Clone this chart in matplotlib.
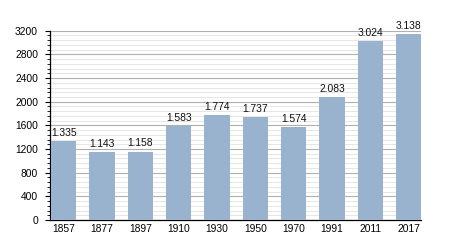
import matplotlib
matplotlib.use("Agg")
import matplotlib.pyplot as plt
from matplotlib.ticker import MultipleLocator

years = ["1857", "1877", "1897", "1910", "1930", "1950", "1970", "1991", "2011", "2017"]
population = [1335, 1143, 1158, 1583, 1774, 1737, 1574, 2083, 3024, 3138]
labels = ["1.335", "1.143", "1.158", "1.583", "1.774", "1.737", "1.574", "2.083", "3.024", "3.138"]

plt.rcParams['font.family'] = ['Liberation Sans', 'DejaVu Sans']

fig = plt.figure(figsize=(4.5, 2.5), dpi=100)
ax = fig.add_axes([0.111, 0.12, 0.825, 0.757])

x = list(range(len(years)))
bars = ax.bar(x, population, width=0.66, color="#99b3cf", zorder=3)
for xi, v, lab in zip(x, population, labels):
    ax.text(xi, v + 55, lab, ha="center", va="bottom", fontsize=7.4, color="#111111", zorder=4)

ax.set_xlim(-0.36, 9.33)
ax.set_ylim(0, 3200)
ax.set_xticks(x)
ax.set_xticklabels(years, fontsize=7.4)
ax.yaxis.set_major_locator(MultipleLocator(400))
ax.yaxis.set_minor_locator(MultipleLocator(80))
ax.tick_params(axis="y", which="major", length=3.6, width=0.8, labelsize=7.4, pad=5)
ax.tick_params(axis="y", which="minor", length=2.2, width=0.6)
ax.tick_params(axis="x", length=0, pad=3)
ax.grid(axis="y", which="major", color="#b0b0b0", linewidth=0.8, zorder=0)
ax.grid(axis="y", which="minor", color="#e2e2e2", linewidth=0.6, zorder=0)
for s in ["top", "right"]:
    ax.spines[s].set_visible(False)
ax.spines["left"].set_linewidth(0.9)
ax.spines["bottom"].set_linewidth(0.9)

fig.savefig("out.png", dpi=100)
